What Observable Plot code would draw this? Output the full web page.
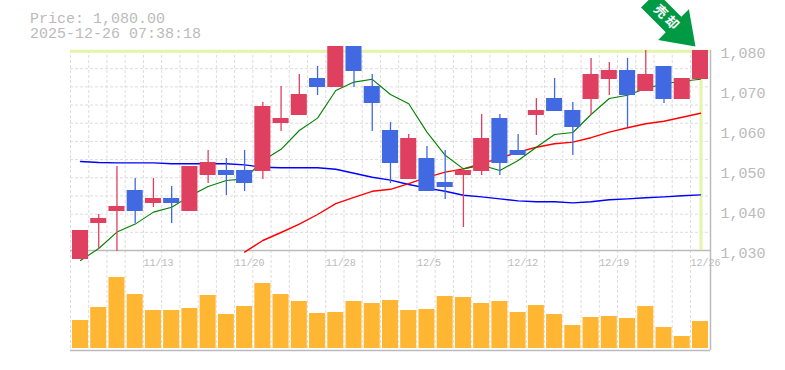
<!DOCTYPE html>
<html>
<head>
<meta charset="utf-8">
<script src="https://cdn.jsdelivr.net/npm/d3@7"></script>
<script src="https://cdn.jsdelivr.net/npm/@observablehq/plot@0.6"></script>
<style>
html,body{margin:0;padding:0;background:#fff;}
#wrap{position:relative;width:785px;height:370px;overflow:hidden;}
.hd{position:absolute;left:30px;top:12px;font:15px/15px "Liberation Mono",monospace;color:#bbb;white-space:pre;}
</style>
</head>
<body>
<div id="wrap">
<div class="hd" id="t1"></div>
</div>
<script>
const priceLabel = "Price: 1,080.00";
const stampLabel = "2025-12-26 07:38:18";
const arrowLabel = "売 却";

const open  = [1027.75,1036.75,1039.75,1045,1041.75,1043,1039.75,1048.75,1050,1050,1049.75,1061.75,1063.75,1073,1070.75,1081,1071,1060,1047.75,1053,1047,1048.75,1049.75,1063,1055,1063.75,1068,1065,1067.75,1072.75,1075,1069.75,1076,1067.75,1072.75];
const close = [1035,1038,1041,1039.75,1043,1041.75,1051,1052,1048.75,1046.75,1066,1063,1069,1070.75,1081,1074.75,1066.75,1051.75,1058,1044.75,1045.75,1050,1058,1051.75,1053.75,1065,1064.75,1060.75,1074,1075,1068.75,1074,1067.75,1073,1080];
const high  = [1035,1039,1051,1048,1048,1046,1051,1055,1053,1055,1067,1071,1074,1076,1081,1081,1074,1062,1059,1056,1055,1050,1064,1064,1059,1068,1073,1067,1078,1077,1078,1080,1076,1073,1080];
const low   = [1027.75,1030.5,1029.75,1036.75,1040.75,1036.75,1039.75,1046.75,1043.75,1044.75,1047.75,1059.75,1063.75,1068.75,1070.75,1070.75,1059.75,1046.75,1047.75,1044.75,1042.75,1035.75,1048.75,1048.75,1053.75,1058.75,1064.75,1053.75,1063.75,1068.75,1060.75,1069.75,1066.75,1067.75,1072.75];
const volume = [28,41,71,54,38,38,40,53,34,42,65,54,47,35,36,47,45,48,38,39,52,51,45,47,36,43,34,23,31,32,30,42,21,12,27];

const maShort = [1027.5,1030.5,1034.6,1036.6,1039.6,1040.8,1043.6,1046,1047.5,1047.9,1052.5,1055.3,1060,1063.1,1070,1072.1,1072.8,1069,1066.7,1059.6,1053.8,1050.4,1051.3,1050,1052.5,1055.8,1059,1059.5,1064,1068,1068.8,1070.5,1071.7,1072.3,1072.8];
const maMidStart = 9;
const maMid = [1029.6,1032.5,1034.5,1036.6,1039,1041.7,1043.3,1044.8,1045.3,1046.7,1048.3,1049.6,1050.4,1051.7,1053.1,1054.6,1055.8,1056.7,1057.1,1058.2,1059.6,1060.7,1061.7,1062.3,1063.3,1064.3];
const maLong = [1052.25,1052,1051.9,1051.9,1051.9,1051.7,1051.7,1051.7,1051.7,1051.4,1050.8,1050.7,1050.7,1050.7,1050.3,1049.3,1048.3,1047.6,1046.5,1045.6,1044.8,1043.8,1043.4,1042.9,1042.4,1042.2,1042.2,1041.9,1042.2,1042.7,1042.9,1043.2,1043.4,1043.7,1043.9];

const priceTicks = [1030,1040,1050,1060,1070,1080];
const dateIndex = [4,9,14,19,24,29,34];
const dateLabels = ["11/13","11/20","11/28","12/5","12/12","12/19","12/26"];

const GRAY = "#bbb", GRID = "#ddd", HILITE = "#e2f5a8";
const UP = "#e0405f", DOWN = "#4169e1", VOL = "#ffb733";
const MONO = "Liberation Mono, monospace";

const n = open.length;
const idx = d3.range(n);
const xScale = {domain: [-0.548, 34.55], range: [70, 710]};
const gridXs = idx;
const gridYs = d3.range(12).map(k => 1030 + k * 50 / 11);
const svgStyle = {position: "absolute", left: 0, top: 0, background: "transparent", overflow: "visible"};
const colorOf = i => close[i] >= open[i] ? UP : DOWN;
const halfBody = 0.44;
const gridDx = -10;

const arrowShape = {
  draw(ctx) {
    ctx.moveTo(0, 0);
    ctx.lineTo(21.7, 31);
    ctx.lineTo(11, 31);
    ctx.lineTo(11, 66);
    ctx.lineTo(-11, 66);
    ctx.lineTo(-11, 31);
    ctx.lineTo(-21.7, 31);
    ctx.closePath();
  }
};

const volumePlot = Plot.plot({
  width: 785, height: 370,
  marginTop: 250, marginBottom: 20, marginLeft: 70, marginRight: 75,
  style: svgStyle,
  x: {...xScale, axis: null},
  y: {domain: [-2, 98], axis: null},
  marks: [
    Plot.ruleX(gridXs, {x: d => d, dx: gridDx, stroke: GRID, strokeDasharray: "3,2"}),
    Plot.rect(volume, {x1: (d, i) => i - halfBody, x2: (d, i) => i + halfBody, y1: 0, y2: d => d, fill: VOL}),
    Plot.ruleY([-2], {stroke: GRAY, strokeWidth: 1.5}),
    Plot.ruleX([34.55], {stroke: GRAY, strokeWidth: 1.5})
  ]
});

const pricePlot = Plot.plot({
  width: 785, height: 370,
  marginTop: 50, marginBottom: 120, marginLeft: 70, marginRight: 75,
  style: svgStyle,
  x: xScale,
  y: {domain: [1030, 1080]},
  marks: [
    Plot.ruleX(gridXs, {x: d => d, dx: gridDx, stroke: GRID, strokeDasharray: "3,2"}),
    Plot.ruleY(gridYs, {y: d => d, stroke: GRID, strokeDasharray: "3,2"}),
    Plot.ruleY([1030], {stroke: GRAY, strokeWidth: 1.5}),
    Plot.ruleX([34.55], {stroke: GRAY, strokeWidth: 1.5}),
    Plot.ruleY([close[n - 1]], {stroke: HILITE, strokeWidth: 3, dy: 0.7}),
    Plot.ruleX([n - 1], {stroke: HILITE, strokeWidth: 3, dx: 0.5}),
    Plot.line(maLong, {x: (d, i) => i, y: d => d, stroke: "#0000ff", strokeWidth: 1.4, curve: "linear"}),
    Plot.line(maMid, {x: (d, i) => i + maMidStart, y: d => d, stroke: "#ff0000", strokeWidth: 1.4}),
    Plot.line(maShort, {x: (d, i) => i, y: d => d, stroke: "#008000", strokeWidth: 1.1}),
    Plot.ruleX(idx, {x: i => i, y1: i => low[i], y2: i => high[i], stroke: colorOf, strokeWidth: 1.3}),
    Plot.rect(idx, {x1: i => i - halfBody, x2: i => i + halfBody, y1: i => open[i], y2: i => close[i], fill: colorOf}),
    Plot.vector([n - 1], {x: i => i, y: i => close[i], rotate: 135, anchor: "start", shape: arrowShape, fill: "#009944", stroke: "none", dx: -5, dy: -4}),
    Plot.text([n - 1], {x: i => i, y: i => close[i], text: () => arrowLabel, rotate: 45, dx: -34.4, dy: -33.3, fill: "#fff", fontSize: 13, fontWeight: "bold", fontFamily: "Noto Sans CJK JP"}),
    Plot.axisY({anchor: "right", ticks: priceTicks, tickSize: 0, tickPadding: 10, tickFormat: d3.format(","), textAnchor: "start", fontSize: 15, fontFamily: MONO, color: GRAY, dy: 3, label: null}),
    Plot.axisX({anchor: "bottom", ticks: dateIndex, tickSize: 0, tickPadding: 8, tickFormat: i => dateLabels[dateIndex.indexOf(i)], textAnchor: "start", fontSize: 10, fontFamily: MONO, color: GRAY, dx: gridDx, label: null})
  ]
});

document.getElementById("t1").textContent = priceLabel + "\n" + stampLabel;
const wrap = document.getElementById("wrap");
wrap.append(volumePlot, pricePlot);
</script>
</body>
</html>
